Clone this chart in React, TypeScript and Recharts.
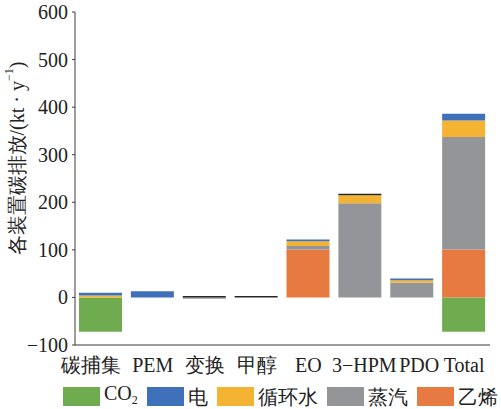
import { BarChart, Bar, XAxis, YAxis, Legend } from "recharts";

const categories = ["碳捕集", "PEM", "变换", "甲醇", "EO", "3−HPM", "PDO", "Total"];
const co2 = [-72, 0, 0, 0, 0, 0, 0, -72];
const ethylene = [0, 0, 0, 0, 101, 0, 0, 101];
const steam = [0, 0, -3, 0, 7, 198, 31, 236];
const water = [4, 0, 0, 0, 10, 17, 5, 35];
const power = [6, 13, 0, 0, 4, 0, 4, 14];
const other = [0, 0, 3, 3, 0, 3, 0, 0];
const yTicks = [-100, 0, 100, 200, 300, 400, 500, 600];

const data = categories.map((name, i) => ({
  name,
  co2: co2[i],
  ethylene: ethylene[i],
  steam: steam[i],
  water: water[i],
  power: power[i],
  other: other[i],
}));

const FONT = "'Liberation Serif', 'Times New Roman', Times, serif";
const AXIS = "#3a3a3a";

const COLORS = {
  co2: "#6fab4f",
  power: "#3f71bb",
  water: "#f5b334",
  steam: "#939598",
  ethylene: "#e67a41",
  other: "#262626",
};

// small horizontal nudges so neighbouring category names don't run together
const TICK_SHIFT: Record<string, number> = { "碳捕集": -10, "3−HPM": 4, PDO: 7 };

const legendItems = [
  { key: "co2", label: <>CO<sub style={{ fontSize: 12, verticalAlign: -4 }}>2</sub></> },
  { key: "power", label: "电" },
  { key: "water", label: "循环水" },
  { key: "steam", label: "蒸汽" },
  { key: "ethylene", label: "乙烯" },
];

const renderLegend = () => (
  <div
    style={{
      display: "flex",
      alignItems: "center",
      whiteSpace: "nowrap",
      paddingLeft: 63,
      paddingTop: 8,
      fontFamily: FONT,
      fontSize: 20,
      color: "#222",
    }}
  >
    {legendItems.map((it) => (
      <div key={it.key} style={{ display: "flex", alignItems: "center", marginRight: 9 }}>
        <span
          style={{
            width: 37,
            height: 19,
            background: COLORS[it.key as keyof typeof COLORS],
            display: "inline-block",
            marginRight: 4,
          }}
        />
        <span style={{ lineHeight: "20px" }}>{it.label}</span>
      </div>
    ))}
  </div>
);

const CategoryTick = (props: any) => {
  const { x, y, payload } = props;
  const dx = TICK_SHIFT[payload.value] || 0;
  return (
    <text x={x + dx} y={y} dy="0.71em" textAnchor="middle" fontFamily={FONT} fontSize={20} fill="#222">
      {payload.value}
    </text>
  );
};

const ValueTick = (props: any) => {
  const { x, y, payload } = props;
  const v = payload.value < 0 ? `−${Math.abs(payload.value)}` : `${payload.value}`;
  return (
    <text x={x} y={y} dy="0.35em" textAnchor="end" fontFamily={FONT} fontSize={20} fill="#222">
      {v}
    </text>
  );
};

const renderYLabel = (props: any) => {
  const vb = props.viewBox || { x: 0, y: 12, width: 75, height: 333 };
  const cx = vb.x + 17;
  const cy = vb.y + vb.height / 2 - 20;
  return (
    <text
      x={cx}
      y={cy}
      transform={`rotate(-90, ${cx}, ${cy})`}
      textAnchor="middle"
      dominantBaseline="central"
      fontFamily={FONT}
      fontSize={20}
      fill="#222"
    >
      各装置碳排放/(kt · y
      <tspan dy={-8} fontSize={12}>−1</tspan>
      <tspan dy={8}>)</tspan>
    </text>
  );
};

export default function App() {
  return (
    <div style={{ position: "absolute", left: 0, top: 0, width: 501, height: 409, background: "#fff" }}>
      <BarChart
        width={501}
        height={409}
        data={data}
        stackOffset="sign"
        barSize={43}
        margin={{ top: 12, right: 11, left: 0, bottom: 0 }}
      >
        <XAxis
          dataKey="name"
          height={30}
          tickLine={false}
          tickSize={0}
          tickMargin={13}
          stroke={AXIS}
          tick={<CategoryTick />}
          interval={0}
        />
        <XAxis xAxisId="top" dataKey="name" orientation="top" height={0} tick={false} tickLine={false} stroke={AXIS} />
        <YAxis
          width={75}
          domain={[-100, 600]}
          ticks={yTicks}
          interval={0}
          tickSize={3}
          tickMargin={4}
          stroke={AXIS}
          tick={<ValueTick />}
          label={renderYLabel}
        />
        <YAxis yAxisId="right" orientation="right" width={0} domain={[-100, 600]} tick={false} tickLine={false} stroke={AXIS} />
        <Legend verticalAlign="bottom" height={34} content={renderLegend} wrapperStyle={{ left: 0, width: 501 }} />
        <Bar dataKey="co2" stackId="a" fill={COLORS.co2} isAnimationActive={false} />
        <Bar dataKey="ethylene" stackId="a" fill={COLORS.ethylene} isAnimationActive={false} />
        <Bar dataKey="steam" stackId="a" fill={COLORS.steam} isAnimationActive={false} />
        <Bar dataKey="water" stackId="a" fill={COLORS.water} isAnimationActive={false} />
        <Bar dataKey="power" stackId="a" fill={COLORS.power} isAnimationActive={false} />
        <Bar dataKey="other" stackId="a" fill={COLORS.other} legendType="none" isAnimationActive={false} />
      </BarChart>
    </div>
  );
}
